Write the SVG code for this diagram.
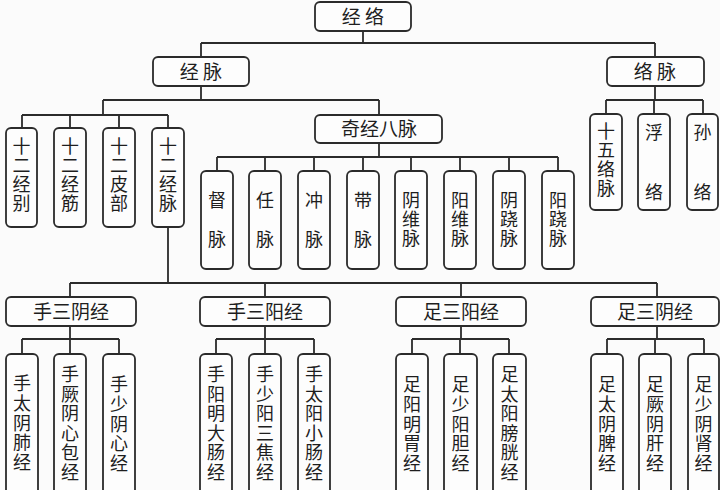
<svg xmlns="http://www.w3.org/2000/svg" width="720" height="490" viewBox="0 0 720 490">
<style>
.b{fill:#fdfdfd;stroke:#2b2b2b;stroke-width:1.8}
.t{font-family:"Noto Sans CJK SC","Noto Sans",sans-serif;font-size:19px;fill:#1e1e1e;text-anchor:middle}
.v{font-family:"Noto Sans CJK SC","Noto Sans",sans-serif;font-size:18px;fill:#1e1e1e;text-anchor:middle;writing-mode:vertical-rl;letter-spacing:1px}
.v2{letter-spacing:21px}
.v3{letter-spacing:42px}
.vb{letter-spacing:1.6px}
.c{fill:none;stroke:#2b2b2b;stroke-width:1.8}
</style>
<rect width="720" height="490" fill="#fbfbfb"/>
<g id="connectors" class="c">
<path d="M363 31V43M201 43H655M201 43V57M655 43V57"/>
<path d="M201 86V100M103 100H379M379 100V115M103 100V115M22 115H168M22 115V128M70 115V128M119 115V128M168 115V128"/>
<path d="M379 143V157M217 157H558M217 157V171M265 157V171M314 157V171M363 157V171M411 157V171M460 157V171M509 157V171M558 157V171"/>
<path d="M655 86V100M606 100H703M606 100V114M654 100V114M703 100V114"/>
<path d="M168 227V283M70 283H657M70 283V297M265 283V297M461 283V297M657 283V297"/>
<path d="M70 326V339M22 339H119M22 339V354M70 339V354M119 339V354"/>
<path d="M265 326V339M216 339H314M216 339V354M265 339V354M314 339V354"/>
<path d="M461 326V339M412 339H509M412 339V354M460 339V354M509 339V354"/>
<path d="M657 326V339M607 339H704M607 339V354M655 339V354M704 339V354"/>
</g>
<g id="n-jingluo"><rect class="b" x="315" y="2" width="96" height="29" rx="5"/><text class="t" x="363" y="24">经 络</text></g>
<g id="n-jingmai"><rect class="b" x="153" y="57" width="96" height="29" rx="5"/><text class="t" x="201" y="79">经 脉</text></g>
<g id="n-luomai"><rect class="b" x="607" y="57" width="97" height="29" rx="5"/><text class="t" x="655" y="79">络 脉</text></g>
<g id="n-shierjingbie"><rect class="b" x="6" y="128" width="31" height="99" rx="5"/><text class="v" x="21.5" y="175.5">十二经别</text></g>
<g id="n-shierjingjin"><rect class="b" x="54" y="128" width="32" height="99" rx="5"/><text class="v" x="70" y="175.5">十二经筋</text></g>
<g id="n-shierpibu"><rect class="b" x="103" y="128" width="32" height="99" rx="5"/><text class="v" x="119" y="175.5">十二皮部</text></g>
<g id="n-shierjingmai"><rect class="b" x="152" y="128" width="32" height="99" rx="5"/><text class="v" x="168" y="175.5">十二经脉</text></g>
<g id="n-qijingbamai"><rect class="b" x="315" y="115" width="127" height="28" rx="5"/><text class="t" x="379" y="136">奇经八脉</text></g>
<g id="n-dumai"><rect class="b" x="201" y="171" width="32" height="98" rx="5"/><text class="v v2" x="217" y="230.5">督脉</text></g>
<g id="n-renmai"><rect class="b" x="249" y="171" width="32" height="98" rx="5"/><text class="v v2" x="265" y="230.5">任脉</text></g>
<g id="n-chongmai"><rect class="b" x="298" y="171" width="32" height="98" rx="5"/><text class="v v2" x="314" y="230.5">冲脉</text></g>
<g id="n-daimai"><rect class="b" x="347" y="171" width="32" height="98" rx="5"/><text class="v v2" x="363" y="230.5">带脉</text></g>
<g id="n-yinweimai"><rect class="b" x="395" y="171" width="32" height="98" rx="5"/><text class="v" x="411" y="220">阴维脉</text></g>
<g id="n-yangweimai"><rect class="b" x="444" y="171" width="32" height="98" rx="5"/><text class="v" x="460" y="220">阳维脉</text></g>
<g id="n-yinqiaomai"><rect class="b" x="493" y="171" width="32" height="98" rx="5"/><text class="v" x="509" y="220">阴跷脉</text></g>
<g id="n-yangqiaomai"><rect class="b" x="542" y="171" width="32" height="98" rx="5"/><text class="v" x="558" y="220">阳跷脉</text></g>
<g id="n-shiwuluomai"><rect class="b" x="590" y="114" width="32" height="96" rx="5"/><text class="v" x="606" y="160.5">十五络脉</text></g>
<g id="n-fuluo"><rect class="b" x="638" y="114" width="32" height="96" rx="5"/><text class="v v3" x="654" y="183.5">浮络</text></g>
<g id="n-sunluo"><rect class="b" x="687" y="114" width="31" height="96" rx="5"/><text class="v v3" x="702.5" y="183.5">孙络</text></g>
<g id="n-shousanyin"><rect class="b" x="6" y="297" width="130" height="29" rx="5"/><text class="t" x="71" y="319">手三阴经</text></g>
<g id="n-shousanyang"><rect class="b" x="200" y="297" width="130" height="29" rx="5"/><text class="t" x="265" y="319">手三阳经</text></g>
<g id="n-zusanyang"><rect class="b" x="396" y="297" width="130" height="29" rx="5"/><text class="t" x="461" y="319">足三阳经</text></g>
<g id="n-zusanyin"><rect class="b" x="591" y="297" width="128" height="29" rx="5"/><text class="t" x="655" y="319">足三阴经</text></g>
<g id="n-shoutaiyin"><rect class="b" x="6" y="354" width="32" height="150" rx="5"/><text class="v vb" x="22" y="423.5">手太阴肺经</text></g>
<g id="n-shoujueyin"><rect class="b" x="54" y="354" width="32" height="150" rx="5"/><text class="v vb" x="70" y="424">手厥阴心包经</text></g>
<g id="n-shoushaoyin"><rect class="b" x="103" y="354" width="32" height="150" rx="5"/><text class="v vb" x="119" y="424.5">手少阴心经</text></g>
<g id="n-shouyangming"><rect class="b" x="200" y="354" width="32" height="150" rx="5"/><text class="v vb" x="216" y="424">手阳明大肠经</text></g>
<g id="n-shoushaoyang"><rect class="b" x="249" y="354" width="32" height="150" rx="5"/><text class="v vb" x="265" y="424">手少阳三焦经</text></g>
<g id="n-shoutaiyang"><rect class="b" x="298" y="354" width="32" height="150" rx="5"/><text class="v vb" x="314" y="424">手太阳小肠经</text></g>
<g id="n-zuyangming"><rect class="b" x="396" y="354" width="32" height="150" rx="5"/><text class="v vb" x="412" y="424.5">足阳明胃经</text></g>
<g id="n-zushaoyang"><rect class="b" x="444" y="354" width="33" height="150" rx="5"/><text class="v vb" x="460.5" y="424.5">足少阳胆经</text></g>
<g id="n-zutaiyang"><rect class="b" x="493" y="354" width="33" height="150" rx="5"/><text class="v vb" x="509.5" y="424">足太阳膀胱经</text></g>
<g id="n-zutaiyin"><rect class="b" x="591" y="354" width="32" height="150" rx="5"/><text class="v vb" x="607" y="424.5">足太阴脾经</text></g>
<g id="n-zujueyin"><rect class="b" x="639" y="354" width="32" height="150" rx="5"/><text class="v vb" x="655" y="424.5">足厥阴肝经</text></g>
<g id="n-zushaoyin"><rect class="b" x="688" y="354" width="31" height="150" rx="5"/><text class="v vb" x="703.5" y="424.5">足少阴肾经</text></g>
</svg>
